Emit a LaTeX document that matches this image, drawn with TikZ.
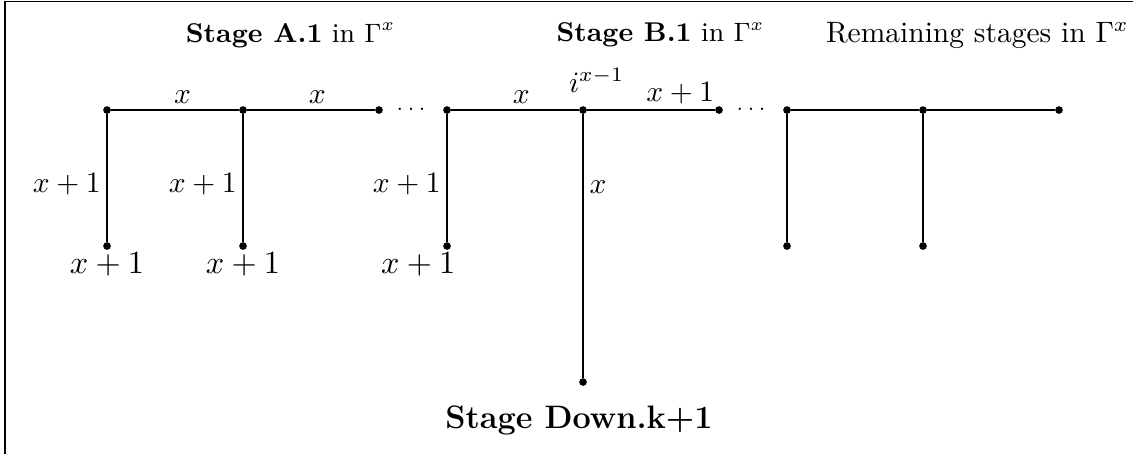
\documentclass[tikz,border=0pt]{standalone}
\usepackage{amsmath,
            amssymb   % Symbols
            }
\usepackage{tikz}
\usetikzlibrary{arrows}

\begin{document}
\begin{tikzpicture}[x=1.62cm,y=1.62cm,
  vtx/.style={circle,fill,inner sep=0pt,minimum size=2.6pt},
  elab/.style={font=\fontsize{9.6}{11}\selectfont,inner sep=2pt},
  xlab/.style={inner sep=2pt},
  leaf/.style={font=\fontsize{11}{13}\selectfont,inner sep=2pt},
  title/.style={font=\fontsize{9.2}{11}\selectfont}]
\useasboundingbox (-0.787,-2.529) rectangle (7.544,0.809);
\draw
(-0.75,-2.529) -- (-0.75,0.80) -- (7.544,0.80);

% titles
\node[title] (tA) at (1.35,0.55) {\textbf{Stage A.1} in $\Gamma^x$};
\node[title] (tB) at (4.07,0.55) {\textbf{Stage B.1} in $\Gamma^x$};
\node (tR) at (6.40,0.55) {Remaining stages in $\Gamma^x$};
\node[font=\fontsize{11}{13}\selectfont] (tD) at (3.47,-2.28) {\textbf{Stage Down.k+1}};

% vertices
\node[vtx] (a1) at (0,0) {};
\node[vtx] (a2) at (1,0) {};
\node[vtx] (a3) at (2,0) {};
\node[vtx] (b1) at (2.5,0) {};
\node[vtx] (b2) at (3.5,0) {};
\node[vtx] (b3) at (4.5,0) {};
\node[vtx] (c1) at (5,0) {};
\node[vtx] (c2) at (6,0) {};
\node[vtx] (c3) at (7,0) {};
\node[vtx] (a1d) at (0,-1) {};
\node[vtx] (a2d) at (1,-1) {};
\node[vtx] (b1d) at (2.5,-1) {};
\node[vtx] (b2d) at (3.5,-2) {};
\node[vtx] (c1d) at (5,-1) {};
\node[vtx] (c2d) at (6,-1) {};

\node[font=\scriptsize] (dots1) at (2.25,0) {$\cdots$};
\node[font=\scriptsize] (dots2) at (4.75,0) {$\cdots$};
\node (ilab) at (3.6,0.22) {$i^{x-1}$};

% edges
\draw
(a1) -- node[above,pos=0.56,xlab] {$x$} (a2)
(a2) -- node[above,pos=0.55,xlab] {$x$} (a3)
(b1) -- node[above,pos=0.55,xlab] {$x$} (b2)
(b2) -- node[above,pos=0.73,elab] {$x+1$} (b3)
(c1) -- (c2) -- (c3);
\draw
(a1) -- node[left,pos=0.55,elab] {$x+1$} (a1d)
(a2) -- node[left,pos=0.55,elab] {$x+1$} (a2d)
(b1) -- node[left,pos=0.55,elab] {$x+1$} (b1d)
(b2) -- node[right,pos=0.275,xlab] {$x$} (b2d)
(c1) -- (c1d)
(c2) -- (c2d);

% leaf labels
\node[below,leaf] (l1) at (a1d) {$x+1$};
\node[below,leaf] (l2) at (a2d) {$x+1$};
\node[below left,leaf,xshift=0.5em] (l3) at (b1d) {$x+1$};
\end{tikzpicture}
\end{document}
